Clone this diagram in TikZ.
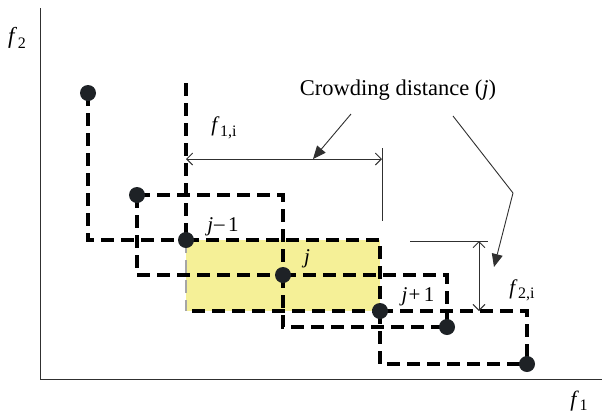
\documentclass[tikz,border=0pt]{standalone}
\usepackage{fontspec}
\setmainfont{Liberation Serif}
\usetikzlibrary{arrows.meta}
\definecolor{dotc}{HTML}{1E2226}
\definecolor{fillc}{HTML}{F5F097}
\definecolor{thinc}{HTML}{303030}
\newcommand\fsub[1]{\textit{f}\kern0.5pt\raisebox{-0.45ex}{\fontsize{16}{16}\selectfont #1}}
\begin{document}
\begin{tikzpicture}[x=1pt,y=-1pt,
  dl/.style={line width=3.3pt, dash pattern=on 13pt off 7pt},
  dlight/.style={line width=1.2pt, draw=gray!70, dash pattern=on 13pt off 7pt},
  dot/.style={circle, fill=dotc, inner sep=0pt, minimum size=16pt},
  thinl/.style={line width=0.9pt, draw=thinc},
  dim/.style={thinl, {Straight Barb[length=6pt,width=12pt]}-{Straight Barb[length=6pt,width=12pt]}},
  ptr/.style={thinl, -{Triangle[length=13pt,width=11pt]}},
  lbl/.style={font=\fontsize{21}{24}\selectfont, inner sep=0pt}
]
\useasboundingbox (0,0) rectangle (602,416);
% axes
\coordinate (o) at (40.5,379.5);
\coordinate (ytop) at (40.5,8);
\coordinate (xend) at (602,379.5);
\draw[line width=1.2pt, draw=thinc] (ytop) -- (o) -- (xend);
\node[lbl, font=\fontsize{23}{26}\selectfont] (f2) at (17,38) {\fsub{2}};
\node[lbl, font=\fontsize{22}{26}\selectfont] (f1) at (579,401) {\fsub{1}};
% key points
\coordinate (p1) at (88,93);
\coordinate (p2) at (137,195);
\coordinate (p3) at (186,240);
\coordinate (p4) at (283,275);
\coordinate (p5) at (380,311);
\coordinate (p6) at (447,327);
\coordinate (p7) at (527,364);
\coordinate (vtop) at (186,83);
% yellow cuboid of j
\fill[fillc] (p3) rectangle (p5);
\draw[dlight] (p3) -- (p3 |- p5);
\draw[dl] (p3) -- (p5 |- p3) -- (p5) -- (p3 |- p5);
% cuboid of p2
\draw[dl] (p1) -- (p1 |- p3) -- (p3);
\draw[dl] (vtop) -- (p3);
% cuboid of j-1
\draw[dl] (p2) -- (p4 |- p2) -- (p4);
\draw[dl] (p2) -- (p2 |- p4) -- (p4);
% cuboid of j+1
\draw[dl] (p4) -- (p6 |- p4) -- (p6);
\draw[dl] (p4) -- (p4 |- p6) -- (p6);
% cuboid of p6
\draw[dl] (p5) -- (p7 |- p5) -- (p7);
\draw[dl] (p5) -- (p5 |- p7) -- (p7);
% dots
\foreach \p in {p1,p2,p3,p4,p5,p6,p7} \node[dot] (d\p) at (\p) {};
% labels
\node[lbl] (ljm) at (223,227) {\textit{j}\kern1pt\raisebox{0.1ex}{–}\,1};
\node[lbl] (lj) at (307,259) {\textit{j}};
\node[lbl] (ljp) at (418,297) {\textit{j}\kern1pt+\,1};
% f1 dimension
\coordinate (d1a) at (186,159);
\coordinate (d1b) at (382,159);
\coordinate (e1t) at (382,148);
\coordinate (e1b) at (382,221);
\draw[thinl] (e1t) -- (e1b);
\draw[dim] (d1a) -- (d1b);
\node[lbl] (lf1) at (224,128) {\fsub{1,i}};
% f2 dimension
\coordinate (d2a) at (479,241);
\coordinate (d2b) at (479,311);
\coordinate (e2l) at (410,241);
\coordinate (e2r) at (488,241);
\draw[thinl] (e2l) -- (e2r);
\draw[dim] (d2a) -- (d2b);
\node[lbl] (lf2) at (522,290) {\fsub{2,i}};
% crowding distance
\node[lbl, font=\fontsize{22.5}{26}\selectfont] (cd) at (398,90) {Crowding distance (\textit{j})};
\coordinate (c1s) at (351,114);
\coordinate (c1e) at (313,159);
\draw[ptr] (c1s) -- (c1e);
\coordinate (c2s) at (453,116);
\coordinate (c2m) at (513,193);
\coordinate (c2e) at (494,267);
\draw[ptr] (c2s) -- (c2m) -- (c2e);
\end{tikzpicture}
\end{document}
